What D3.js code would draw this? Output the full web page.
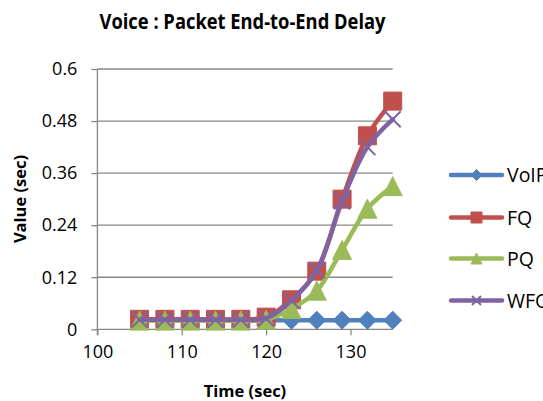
<!DOCTYPE html>
<html>
<head>
<meta charset="utf-8">
<script src="https://cdn.jsdelivr.net/npm/d3@7"></script>
<style>
  html, body { margin: 0; padding: 0; background: #fff; overflow: hidden; }
  svg { display: block; font-family: "Open Sans", "DejaVu Sans", sans-serif; }
</style>
</head>
<body>
<svg id="chart" width="543" height="401"></svg>
<script>
// Simulation time (sec) for each sample
const times = [105, 108, 111, 114, 117, 120, 123, 126, 129, 132, 135];

// End-to-end delay (sec) per queueing scheme
const voip = [0.021, 0.021, 0.021, 0.021, 0.021, 0.021, 0.021, 0.021, 0.021, 0.021, 0.021];
const fq   = [0.023, 0.023, 0.023, 0.023, 0.023, 0.028, 0.068, 0.134, 0.300, 0.446, 0.526];
const pq   = [0.020, 0.020, 0.020, 0.020, 0.020, 0.022, 0.047, 0.089, 0.183, 0.278, 0.330];
const wfq  = [0.022, 0.022, 0.022, 0.022, 0.022, 0.025, 0.066, 0.136, 0.295, 0.420, 0.484];

const seriesNames = ["VoIP", "FQ", "PQ", "WFQ"];
const seriesColors = ["#4F81BD", "#C0504D", "#9BBB59", "#8064A2"];
const seriesMarkers = ["diamond", "square", "triangle", "cross"];

const xTicks = [100, 110, 120, 130];
const yTicks = [0, 0.12, 0.24, 0.36, 0.48, 0.6];
const yTickLabels = ["0", "0.12", "0.24", "0.36", "0.48", "0.6"];

const series = [voip, fq, pq, wfq].map((vals, i) => ({
  name: seriesNames[i],
  color: seriesColors[i],
  marker: seriesMarkers[i],
  points: vals.map((v, j) => ({ t: times[j], v }))
}));

const svg = d3.select("#chart");
const plot = { left: 97.4, right: 392.7, top: 69, bottom: 329.3 };

const x = d3.scaleLinear().domain([100, 135]).range([plot.left, plot.right]);
const y = d3.scaleLinear().domain([0, 0.6]).range([plot.bottom, plot.top]);

const axisColor = "#878787";

// Title
svg.append("text")
  .attr("x", 242.5).attr("y", 28.5)
  .attr("text-anchor", "middle")
  .attr("font-weight", "bold")
  .attr("font-size", 22)
  .attr("textLength", 286)
  .attr("lengthAdjust", "spacingAndGlyphs")
  .attr("fill", "#000")
  .text("Voice : Packet End-to-End Delay");

// Horizontal gridlines
svg.append("g")
  .selectAll("line")
  .data(yTicks.slice(1))
  .join("line")
  .attr("x1", plot.left).attr("x2", plot.right)
  .attr("y1", d => y(d)).attr("y2", d => y(d))
  .attr("stroke", axisColor).attr("stroke-width", 1.3);

// Y axis
const yAxis = d3.axisLeft(y)
  .tickValues(yTicks)
  .tickFormat((d, i) => yTickLabels[i])
  .tickSize(6)
  .tickPadding(14);
const gy = svg.append("g")
  .attr("transform", `translate(${plot.left},0)`)
  .call(yAxis);
gy.select(".domain").remove();
gy.append("line")
  .attr("x1", 0).attr("x2", 0)
  .attr("y1", plot.top).attr("y2", plot.bottom + 6)
  .attr("stroke", axisColor).attr("stroke-width", 1.3);
gy.selectAll(".tick line").attr("stroke", axisColor).attr("stroke-width", 1.3);
gy.selectAll(".tick text")
  .attr("font-family", "'Open Sans', sans-serif")
  .attr("font-size", 18).attr("fill", "#000");

// X axis
const xAxis = d3.axisBottom(x)
  .tickValues(xTicks)
  .tickFormat(d3.format("d"))
  .tickSize(6)
  .tickPadding(10);
const gx = svg.append("g")
  .attr("transform", `translate(0,${plot.bottom})`)
  .call(xAxis);
gx.select(".domain").remove();
gx.append("line")
  .attr("x1", plot.left).attr("x2", plot.right)
  .attr("y1", 0).attr("y2", 0)
  .attr("stroke", axisColor).attr("stroke-width", 1.3);
gx.selectAll(".tick line").attr("stroke", axisColor).attr("stroke-width", 1.3);
gx.selectAll(".tick text")
  .attr("font-family", "'Open Sans', sans-serif")
  .attr("font-size", 18).attr("fill", "#000");

// Axis titles
svg.append("text")
  .attr("x", 245).attr("y", 397)
  .attr("text-anchor", "middle")
  .attr("font-weight", "bold").attr("font-size", 16.5)
  .text("Time (sec)");

svg.append("text")
  .attr("transform", "translate(26,199) rotate(-90)")
  .attr("text-anchor", "middle")
  .attr("font-weight", "bold").attr("font-size", 16.5)
  .text("Value (sec)");

// Marker shapes
function markerPath(kind, s) {
  const h = s / 2;
  switch (kind) {
    case "diamond": return `M0,${-h}L${h},0L0,${h}L${-h},0Z`;
    case "square": return `M${-h},${-h}H${h}V${h}H${-h}Z`;
    case "triangle": return `M0,${-h}L${h},${h}L${-h},${h}Z`;
    case "cross": return `M${-h},${-h}L${h},${h}M${h},${-h}L${-h},${h}`;
  }
}
function drawMarker(g, kind, color, size) {
  const p = g.append("path").attr("d", markerPath(kind, size));
  if (kind === "cross") {
    p.attr("fill", "none").attr("stroke", color).attr("stroke-width", 2);
  } else {
    p.attr("fill", color).attr("stroke", color).attr("stroke-width", 1);
  }
}
const markerSize = { diamond: 18, square: 18, triangle: 19, cross: 16 };

const line = d3.line()
  .x(d => x(d.t))
  .y(d => y(d.v))
  .curve(d3.curveCatmullRom.alpha(0.5));

// Series: line then markers, in drawing order
series.forEach(s => {
  const g = svg.append("g");
  g.append("path")
    .datum(s.points)
    .attr("d", line)
    .attr("fill", "none")
    .attr("stroke", s.color)
    .attr("stroke-width", 4.5)
    .attr("stroke-linejoin", "round")
    .attr("stroke-linecap", "round");
  s.points.forEach(p => {
    const mg = g.append("g").attr("transform", `translate(${x(p.t)},${y(p.v)})`);
    drawMarker(mg, s.marker, s.color, markerSize[s.marker]);
  });
});

// Legend (the chart frame cuts the longer names at the right edge)
const legendY = [175, 217.5, 258.5, 300.5];
series.forEach((s, i) => {
  const g = svg.append("g").attr("transform", `translate(0,${legendY[i]})`);
  g.append("line")
    .attr("x1", 451).attr("x2", 502)
    .attr("y1", 0).attr("y2", 0)
    .attr("stroke", s.color).attr("stroke-width", 4.5)
    .attr("stroke-linecap", "round");
  const mg = g.append("g").attr("transform", "translate(476.5,0)");
  drawMarker(mg, s.marker, s.color, s.marker === "cross" ? 9 : 11);
  g.append("text")
    .attr("x", 507).attr("y", 7)
    .attr("font-size", 19.5).attr("fill", "#000")
    .text(s.name);
});
</script>
</body>
</html>
